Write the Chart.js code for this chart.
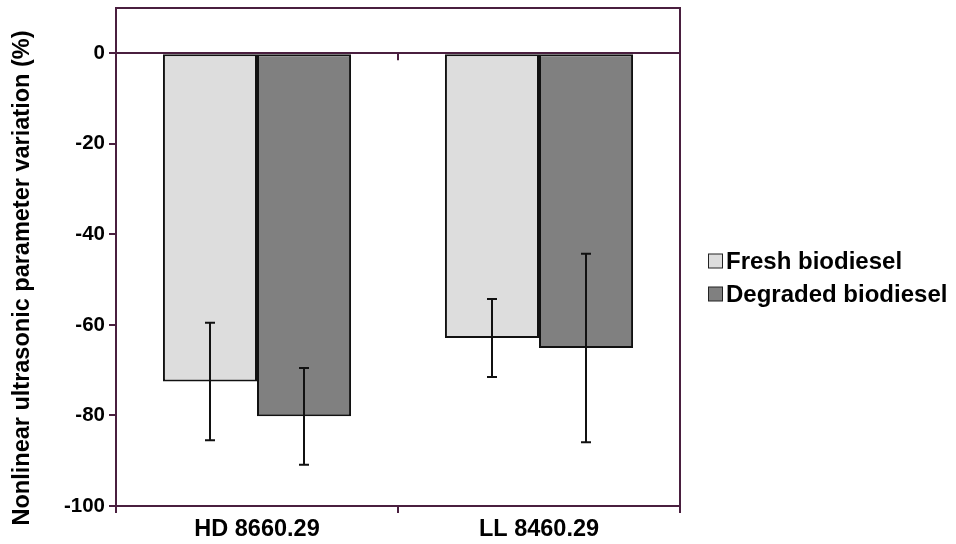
<!DOCTYPE html>
<html>
<head>
<meta charset="utf-8">
<script src="https://cdn.jsdelivr.net/npm/chart.js@4/dist/chart.umd.min.js"></script>
<style>
html,body{margin:0;padding:0;background:#fff;}
#wrap{width:956px;height:544px;position:relative;}
</style>
</head>
<body>
<div id="wrap"><canvas id="c" width="956" height="544"></canvas></div>
<script>
const categories = ['HD 8660.29', 'LL 8460.29'];
const seriesNames = ['Fresh biodiesel', 'Degraded biodiesel'];
const freshValues = [-72.5, -62.9];
const degradedValues = [-80.2, -65.1];
const freshErrors = [13.0, 8.6];
const degradedErrors = [10.7, 20.8];
const yTicks = [-100, -80, -60, -40, -20, 0];
const yTitle = 'Nonlinear ultrasonic parameter variation (%)';

const FRAME = '#4a1f3f';
const FONT = '"Liberation Sans", Arial, sans-serif';
const errorsByDataset = [freshErrors, degradedErrors];

const extrasPlugin = {
  id: 'extras',
  afterDatasetsDraw(chart) {
    const ctx = chart.ctx;
    const ys = chart.scales.y;
    const xs = chart.scales.x;
    const area = chart.chartArea;
    ctx.save();
    // error bars
    ctx.strokeStyle = '#111';
    ctx.lineWidth = 2;
    chart.data.datasets.forEach((ds, di) => {
      const meta = chart.getDatasetMeta(di);
      meta.data.forEach((bar, i) => {
        const v = ds.data[i];
        const e = errorsByDataset[di][i];
        const yTop = ys.getPixelForValue(v + e);
        const yBot = ys.getPixelForValue(v - e);
        const x = Math.round(bar.x);
        ctx.beginPath();
        ctx.moveTo(x, yTop); ctx.lineTo(x, yBot);
        ctx.moveTo(x - 5, yTop); ctx.lineTo(x + 5, yTop);
        ctx.moveTo(x - 5, yBot); ctx.lineTo(x + 5, yBot);
        ctx.stroke();
      });
    });
    // frame top/right
    ctx.strokeStyle = FRAME;
    ctx.lineWidth = 2;
    ctx.beginPath();
    ctx.moveTo(area.left, area.top);
    ctx.lineTo(area.right, area.top);
    ctx.lineTo(area.right, area.bottom);
    ctx.stroke();
    // category tick on zero line
    const y0 = ys.getPixelForValue(0);
    for (let i = 0; i < categories.length - 1; i++) {
      const xm = (xs.getPixelForValue(i) + xs.getPixelForValue(i + 1)) / 2;
      ctx.beginPath();
      ctx.moveTo(xm, y0); ctx.lineTo(xm, y0 + 7);
      ctx.stroke();
    }
    // y title
    ctx.fillStyle = '#000';
    ctx.font = 'bold 23.5px ' + FONT;
    ctx.textAlign = 'center';
    ctx.textBaseline = 'middle';
    ctx.translate(23, 278);
    ctx.rotate(-Math.PI / 2);
    ctx.fillText(yTitle, 0, 0);
    ctx.restore();
    // legend
    ctx.save();
    ctx.font = 'bold 24px ' + FONT;
    ctx.textAlign = 'left';
    ctx.textBaseline = 'middle';
    const ly = [261, 294];
    chart.data.datasets.forEach((ds, di) => {
      ctx.fillStyle = ds.backgroundColor;
      ctx.fillRect(708.5, ly[di] - 7, 14, 14);
      ctx.strokeStyle = '#222';
      ctx.lineWidth = 1;
      ctx.strokeRect(708.5, ly[di] - 7, 14, 14);
      ctx.fillStyle = '#000';
      ctx.fillText(ds.label, 726, ly[di] + 1);
    });
    ctx.restore();
  }
};

new Chart(document.getElementById('c'), {
  type: 'bar',
  data: {
    labels: categories,
    datasets: [
      { label: seriesNames[0], data: freshValues, backgroundColor: '#dddddd', borderColor: '#111', borderWidth: 2, borderSkipped: false },
      { label: seriesNames[1], data: degradedValues, backgroundColor: '#808080', borderColor: '#111', borderWidth: 2, borderSkipped: false }
    ]
  },
  options: {
    responsive: false,
    animation: false,
    layout: { padding: { left: 0, right: 276, top: 8, bottom: 0 } },
    plugins: { legend: { display: false }, tooltip: { enabled: false } },
    datasets: { bar: { categoryPercentage: 0.667, barPercentage: 1.0 } },
    scales: {
      x: {
        afterFit(s) { s.height = 38; s.paddingLeft = 0; s.paddingRight = 0; },
        grid: { drawOnChartArea: false, tickColor: FRAME, tickLength: 7, lineWidth: 2, offset: true },
        border: { color: FRAME, width: 2 },
        ticks: { color: '#000', font: { family: FONT, size: 23.5, weight: 'bold' }, padding: 2 }
      },
      y: {
        min: -100, max: 10,
        afterFit(s) { s.width = 116; s.paddingTop = 0; s.paddingBottom = 0; },
        afterBuildTicks(s) { s.ticks = yTicks.map(v => ({ value: v })); },
        grid: {
          color: c => (c.tick && c.tick.value === 0) ? FRAME : 'rgba(0,0,0,0)',
          tickColor: FRAME, tickLength: 7, lineWidth: 2
        },
        border: { color: FRAME, width: 2 },
        ticks: { color: '#000', font: { family: FONT, size: 20.5, weight: 'bold' }, padding: 4 }
      }
    }
  },
  plugins: [extrasPlugin]
});
</script>
</body>
</html>
